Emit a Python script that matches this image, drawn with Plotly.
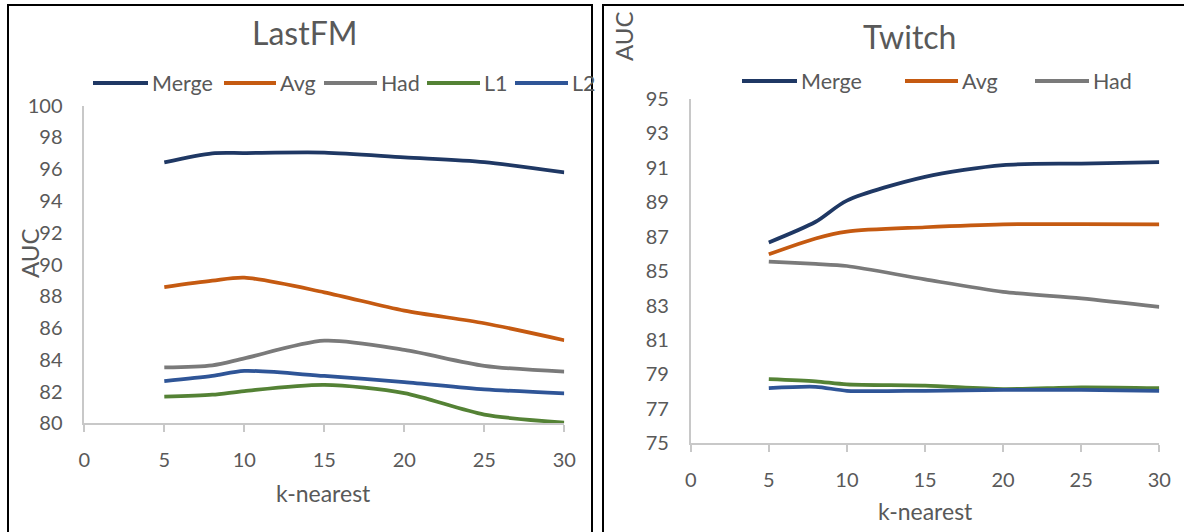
import plotly.graph_objects as go

# k-nearest values evaluated
k_values = [5, 8, 10, 15, 20, 25, 30]

# LastFM AUC per aggregation method
lastfm_merge = [96.43, 97.0, 97.02, 97.05, 96.75, 96.45, 95.8]
lastfm_avg = [88.58, 88.98, 89.17, 88.25, 87.1, 86.3, 85.23]
lastfm_had = [83.52, 83.65, 84.09, 85.2, 84.62, 83.62, 83.25]
lastfm_l1 = [81.68, 81.8, 82.03, 82.42, 81.9, 80.55, 80.05]
lastfm_l2 = [82.65, 82.98, 83.3, 82.98, 82.6, 82.14, 81.88]

# Twitch AUC per aggregation method
twitch_merge = [86.67, 87.87, 89.1, 90.48, 91.16, 91.25, 91.33]
twitch_avg = [85.98, 86.9, 87.3, 87.55, 87.72, 87.73, 87.72]
twitch_had = [85.55, 85.42, 85.3, 84.52, 83.8, 83.42, 82.92]
twitch_l1 = [78.73, 78.6, 78.42, 78.35, 78.15, 78.25, 78.2]
twitch_l2 = [78.2, 78.28, 78.05, 78.05, 78.1, 78.1, 78.05]

series_names = ["Merge", "Avg", "Had", "L1", "L2"]
x_ticks = [0, 5, 10, 15, 20, 25, 30]
lastfm_yticks = [80, 82, 84, 86, 88, 90, 92, 94, 96, 98, 100]
twitch_yticks = [75, 77, 79, 81, 83, 85, 87, 89, 91, 93, 95]

COLORS = {
    "Merge": "#1F3864",
    "Avg": "#C55A11",
    "Had": "#7A7A7A",
    "L1": "#548235",
    "L2": "#2F5597",
}
TEXT = "#595959"
AXIS = "#C8C8C8"
FONT = "Lato"

W, H = 1184, 532


def px_x(v):
    return v / W


def px_y(v):
    return 1 - v / H


fig = go.Figure()

lastfm = dict(zip(series_names, [lastfm_merge, lastfm_avg, lastfm_had, lastfm_l1, lastfm_l2]))
twitch = dict(zip(series_names, [twitch_merge, twitch_avg, twitch_had, twitch_l1, twitch_l2]))

for name in series_names:
    fig.add_trace(go.Scatter(
        x=k_values, y=lastfm[name], mode="lines", name=name,
        line=dict(color=COLORS[name], width=3.75, shape="spline", smoothing=0.8),
        xaxis="x", yaxis="y", showlegend=False,
    ))
for name in series_names:
    fig.add_trace(go.Scatter(
        x=k_values, y=twitch[name], mode="lines", name=name,
        line=dict(color=COLORS[name], width=3.75, shape="spline", smoothing=0.8),
        xaxis="x2", yaxis="y2", showlegend=False,
    ))

xaxis_style = dict(
    range=[0, 30], tickvals=x_ticks, ticks="outside", ticklen=7, tickwidth=1.5,
    tickcolor=AXIS, showline=True, linecolor=AXIS, linewidth=1.5,
    showgrid=False, zeroline=False, fixedrange=True, automargin=False,
    tickfont=dict(family=FONT, size=20, color=TEXT), ticklabelstandoff=11,
)
yaxis_style = dict(
    ticks="", showline=True, linecolor=AXIS, linewidth=1.5,
    showgrid=False, zeroline=False, fixedrange=True, automargin=False,
    tickfont=dict(family=FONT, size=20, color=TEXT), ticklabelstandoff=16,
)

fig.update_layout(
    width=W, height=H, autosize=False,
    margin=dict(l=0, r=0, t=0, b=0, pad=0, autoexpand=False),
    showlegend=False,
    paper_bgcolor="white", plot_bgcolor="white",
    xaxis=dict(domain=[px_x(84.3), px_x(564.3)], anchor="y", **xaxis_style),
    yaxis=dict(domain=[px_y(423.3), px_y(105.7)], anchor="x",
               range=[80, 100], tickvals=lastfm_yticks, **yaxis_style),
    xaxis2=dict(domain=[px_x(690.7), px_x(1159.3)], anchor="y2", **xaxis_style),
    yaxis2=dict(domain=[px_y(443.3), px_y(99)], anchor="x2",
                range=[75, 95], tickvals=twitch_yticks, **yaxis_style),
)

shapes = []
annotations = []

# panel frames
shapes.append(dict(type="rect", xref="paper", yref="paper",
                   x0=px_x(8), x1=px_x(592), y0=px_y(545), y1=px_y(5),
                   line=dict(color="black", width=2), fillcolor="rgba(0,0,0,0)", layer="below"))
shapes.append(dict(type="rect", xref="paper", yref="paper",
                   x0=px_x(603), x1=px_x(1195), y0=px_y(545), y1=px_y(5),
                   line=dict(color="black", width=2), fillcolor="rgba(0,0,0,0)", layer="below"))


def text(x, y, s, size, angle=0, xanchor="center"):
    annotations.append(dict(
        x=px_x(x), y=px_y(y), xref="paper", yref="paper", text=s, showarrow=False,
        xanchor=xanchor, yanchor="middle", textangle=angle,
        font=dict(family=FONT, size=size, color=TEXT),
    ))


# titles
text(304, 32, "LastFM", 32)
text(910, 36, "Twitch", 32)

# axis titles
text(323, 493, "k-nearest", 23)
text(925, 511, "k-nearest", 23)
text(29, 253, "AUC", 24, angle=-90)
text(623, 36, "AUC", 24, angle=-90)


def legend_entry(x0, x1, y, name):
    shapes.append(dict(type="line", xref="paper", yref="paper",
                       x0=px_x(x0), x1=px_x(x1), y0=px_y(y), y1=px_y(y),
                       line=dict(color=COLORS[name], width=4)))
    text(x1 + 2, y, name, 21.5, xanchor="left")


legend_left = [(93, 148), (224, 276), (324, 377), (427, 480), (515, 568)]
for (a, b), name in zip(legend_left, series_names):
    legend_entry(a, b, 83, name)

legend_right = [(742, 797), (905, 958), (1035, 1089)]
for (a, b), name in zip(legend_right, series_names[:3]):
    legend_entry(a, b, 81, name)

fig.update_layout(shapes=shapes, annotations=annotations)

fig.write_html("out.html")
